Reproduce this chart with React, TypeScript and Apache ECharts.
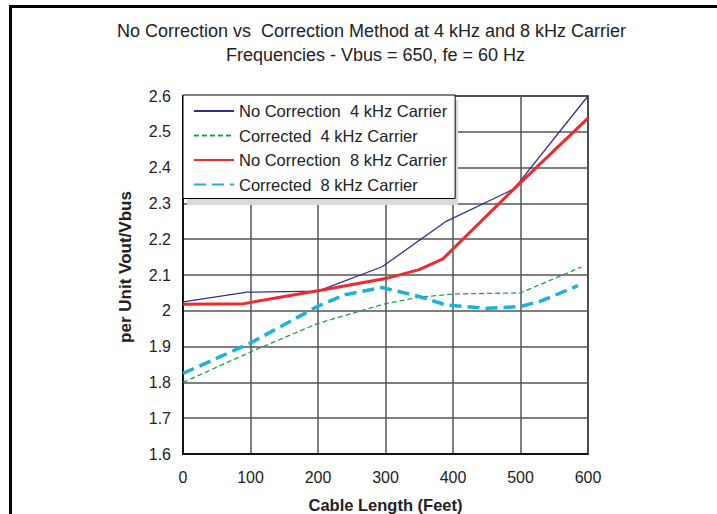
import React, { useEffect, useRef } from "react";
import * as echarts from "echarts";

const titleLines = [
  "No Correction vs  Correction Method at 4 kHz and 8 kHz Carrier",
  "Frequencies - Vbus = 650, fe = 60 Hz",
];
const seriesNames = [
  "No Correction  4 kHz Carrier",
  "Corrected  4 kHz Carrier",
  "No Correction  8 kHz Carrier",
  "Corrected  8 kHz Carrier",
];
const noCorr4: [number, number][] = [
  [0, 2.025], [95, 2.052], [200, 2.055], [295, 2.123], [390, 2.25], [490, 2.34], [600, 2.6],
];
const corr4: [number, number][] = [
  [0, 1.8], [100, 1.885], [200, 1.965], [300, 2.02], [350, 2.038], [400, 2.047], [500, 2.05], [590, 2.122],
];
const noCorr8: [number, number][] = [
  [0, 2.018], [90, 2.02], [150, 2.04], [200, 2.056], [300, 2.09], [350, 2.115], [385, 2.145], [490, 2.34], [600, 2.538],
];
const corr8: [number, number][] = [
  [0, 1.825], [100, 1.91], [200, 2.013], [240, 2.045], [295, 2.065], [350, 2.04], [390, 2.016], [450, 2.007], [500, 2.012], [530, 2.027], [585, 2.07],
];
const xAxisName = "Cable Length (Feet)";
const yAxisName = "per Unit Vout/Vbus";

export default function App() {
  const ref = useRef<HTMLDivElement>(null);
  useEffect(() => {
    if (!ref.current) return;
    const chart = echarts.init(ref.current, undefined, { renderer: "svg" });
    const font = "'Liberation Sans', Arial, sans-serif";
    const titleStyle = {
      fontFamily: font,
      fontSize: 18,
      fontWeight: "normal",
      fill: "#222",
      align: "center",
      verticalAlign: "middle",
    };
    chart.setOption({
      animation: false,
      backgroundColor: "#fff",
      textStyle: { fontFamily: font },
      grid: {
        left: 183,
        right: 129,
        top: 96,
        bottom: 60,
        show: true,
        borderColor: "#000",
        borderWidth: 1.5,
        backgroundColor: "#fff",
        outerBoundsMode: "none",
        containLabel: false,
      },
      legend: {
        orient: "vertical",
        left: 183,
        top: 95,
        padding: [7, 8, 5, 10],
        itemWidth: 40,
        itemHeight: 14,
        itemGap: 6.5,
        backgroundColor: "#fff",
        borderColor: "#000",
        borderWidth: 1,
        itemStyle: { opacity: 0 },
        textStyle: { fontFamily: font, fontSize: 16.5, color: "#222", lineHeight: 18 },
        data: seriesNames,
      },
      xAxis: {
        type: "value",
        min: 0,
        max: 600,
        interval: 100,
        name: xAxisName,
        nameLocation: "middle",
        nameGap: 42,
        nameTextStyle: { fontFamily: font, fontSize: 16.5, fontWeight: "bold", color: "#222" },
        axisLine: { show: true, lineStyle: { color: "#000", width: 1.5 } },
        axisTick: { show: false },
        axisLabel: { fontFamily: font, fontSize: 16, color: "#222", margin: 15 },
        splitLine: { show: true, lineStyle: { color: "#555", width: 1.5 } },
      },
      yAxis: {
        type: "value",
        min: 1.6,
        max: 2.6,
        interval: 0.1,
        axisLine: { show: true, lineStyle: { color: "#000", width: 1.5 } },
        axisTick: { show: false },
        axisLabel: {
          fontFamily: font,
          fontSize: 16,
          color: "#222",
          margin: 12,
          formatter: (v: number) => String(+v.toFixed(1)),
        },
        splitLine: { show: true, lineStyle: { color: "#555", width: 1.5 } },
      },
      graphic: [
        {
          type: "polyline",
          shape: { points: [[10.5, 514], [10.5, 6.5], [717, 6.5]] },
          style: { stroke: "#000", lineWidth: 3, fill: "none" },
          z: 100,
        },
        {
          type: "text",
          x: 371.5,
          y: 31,
          style: { ...titleStyle, text: titleLines[0] },
          z: 10,
        },
        {
          type: "text",
          x: 375.5,
          y: 55,
          style: { ...titleStyle, text: titleLines[1] },
          z: 10,
        },
        {
          type: "rect",
          shape: { x: 187, y: 100, width: 271, height: 105 },
          style: { fill: "#d9d9d9" },
          z: 3,
        },
        {
          type: "text",
          x: 125,
          y: 267,
          rotation: Math.PI / 2,
          style: {
            text: yAxisName,
            fontFamily: font,
            fontSize: 17,
            fontWeight: "bold",
            fill: "#222",
            align: "center",
            verticalAlign: "middle",
          },
          z: 10,
        },
      ],
      series: [
        {
          name: seriesNames[0],
          type: "line",
          data: noCorr4,
          symbol: "none",
          lineStyle: { color: "#2e3192", width: 1.3 },
          itemStyle: { color: "#2e3192" },
        },
        {
          name: seriesNames[1],
          type: "line",
          data: corr4,
          symbol: "none",
          lineStyle: { color: "#1ea04c", width: 1.3, type: [5, 3] },
          itemStyle: { color: "#1ea04c" },
        },
        {
          name: seriesNames[2],
          type: "line",
          data: noCorr8,
          symbol: "none",
          lineStyle: { color: "#ee2a2e", width: 3 },
          itemStyle: { color: "#ee2a2e" },
        },
        {
          name: seriesNames[3],
          type: "line",
          data: corr8,
          symbol: "none",
          lineStyle: { color: "#1bb2db", width: 3.5, type: [12, 6] },
          itemStyle: { color: "#1bb2db" },
        },
      ],
    });
    return () => chart.dispose();
  }, []);
  return (
    <div
      ref={ref}
      style={{ position: "absolute", left: 0, top: 0, width: 717, height: 514 }}
    />
  );
}
